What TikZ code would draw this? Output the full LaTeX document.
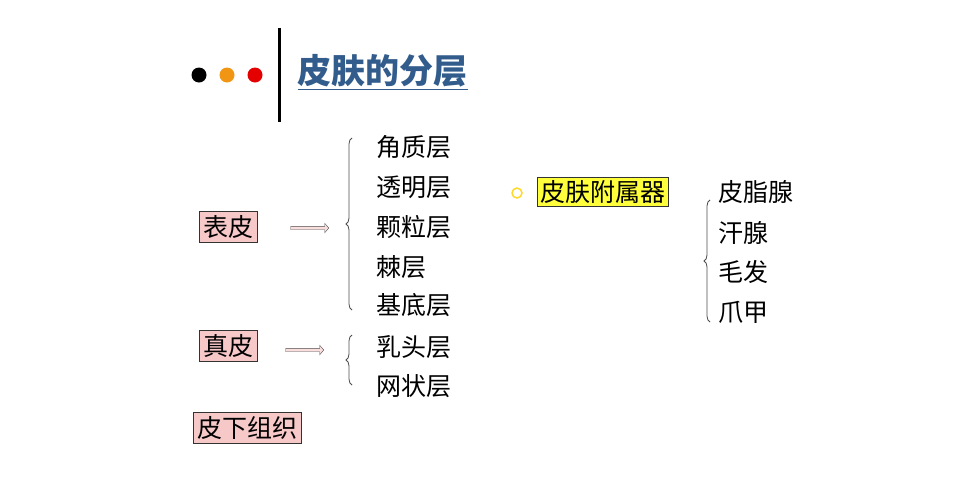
\documentclass[tikz,border=0pt]{standalone}
\usepackage{fontspec}
\setmainfont{Noto Sans CJK SC}
\usetikzlibrary{positioning,shapes.arrows,decorations.pathreplacing}
\definecolor{boxpink}{RGB}{246,200,200}
\definecolor{titleblue}{RGB}{49,92,140}
\definecolor{dotorange}{RGB}{240,150,20}
\definecolor{hlyellow}{RGB}{255,255,60}

\begin{document}
\begin{tikzpicture}[x=1pt,y=-1pt,
    layerbox/.style={draw=black!80,fill=boxpink,inner sep=4pt,font=\fontsize{25}{26}\selectfont},
    item/.style={anchor=west,inner sep=0pt,font=\fontsize{25}{26}\selectfont},
    hollowarrow/.style={single arrow,draw=black!70,fill=boxpink!60,minimum height=38pt,
        single arrow head extend=3pt,inner sep=1.5pt,single arrow tip angle=100},
    bracket/.style={decorate,decoration={brace,mirror,amplitude=6pt},black!70,thick}]
    \useasboundingbox (0,0) rectangle (973,488);
    % title
    \fill (199,75) circle (7.5);
    \fill[dotorange] (227,75) circle (7.5);
    \fill[red!90!black] (255,75) circle (7.5);
    \draw[line width=3pt] (279,28) -- (279,122);
    \node[anchor=west,text=titleblue,font=\fontsize{34}{36}\bfseries\selectfont] (title) at (294,72) {\underline{皮肤的分层}};
    % layers
    \node[layerbox] (epi) at (228,227) {表皮};
    \node[layerbox] (der) at (228,346) {真皮};
    \node[layerbox,anchor=west] (sub) at (193,428) {皮下组织};
    \node[hollowarrow] (arr1) at (309,228) {};
    \node[hollowarrow] (arr2) at (304,350) {};
    % sublayers
    \foreach \t/\y/\n in {角质层/147/a,透明层/187/b,颗粒层/227/c,棘层/267/d,基底层/305/e,乳头层/347/f,网状层/386/g}
        \node[item] (l\n) at (376,\y) {\t};
    \draw[bracket] (352,138) -- (352,310);
    \draw[bracket] (352,335) -- (352,385);
    % appendages
    \node[draw=black!80,fill=hlyellow,inner sep=3pt,font=\fontsize{25}{26}\selectfont] (app) at (603,192) {皮肤附属器};
    \draw[hlyellow!70!orange,line width=1.5pt] (517,193) circle (5);
    \foreach \t/\y/\n in {皮脂腺/192/a,汗腺/233/b,毛发/272/c,爪甲/312/d}
        \node[item] (m\n) at (718,\y) {\t};
    \draw[bracket] (710,200) -- (710,322);
\end{tikzpicture}
\end{document}
